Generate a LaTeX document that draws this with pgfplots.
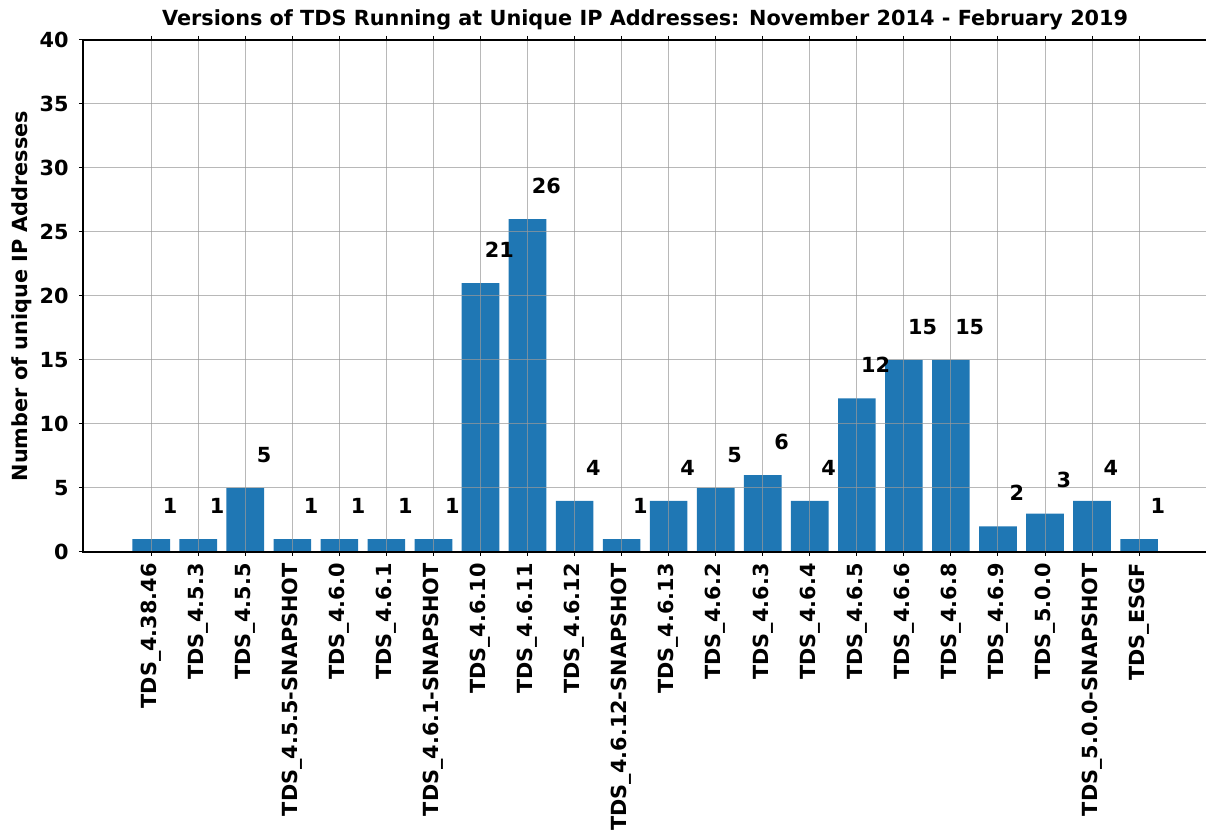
\documentclass[border=0pt]{standalone}
\usepackage{pgfplots}
\pgfplotsset{compat=1.18}
\usepackage{pgfplotstable}
\usepackage{fontspec}
\setmainfont{DejaVu Sans}
\definecolor{barblue}{HTML}{1F77B4}
\definecolor{gridgray}{HTML}{9A9A9A}

\pgfplotstableread{
x y
0 1
1 1
2 5
3 1
4 1
5 1
6 1
7 21
8 26
9 4
10 1
11 4
12 5
13 6
14 4
15 12
16 15
17 15
18 2
19 3
20 4
21 1
}\datatable

\begin{document}
\begin{tikzpicture}
\useasboundingbox (-41.5pt,-141pt) rectangle (561.5pt,276pt);
\begin{axis}[
  scale only axis,
  width=562.15pt, height=256pt,
  xmin=-1.45, xmax=22.45,
  ymin=0, ymax=40,
  xtick={0,...,21},
  xticklabels={TDS\_4.38.46,TDS\_4.5.3,TDS\_4.5.5,TDS\_4.5.5-SNAPSHOT,TDS\_4.6.0,TDS\_4.6.1,TDS\_4.6.1-SNAPSHOT,TDS\_4.6.10,TDS\_4.6.11,TDS\_4.6.12,TDS\_4.6.12-SNAPSHOT,TDS\_4.6.13,TDS\_4.6.2,TDS\_4.6.3,TDS\_4.6.4,TDS\_4.6.5,TDS\_4.6.6,TDS\_4.6.8,TDS\_4.6.9,TDS\_5.0.0,TDS\_5.0.0-SNAPSHOT,TDS\_ESGF},
  ytick={0,5,...,40},
  /pgf/number format/assume math mode=true,
  font=\bfseries\fontsize{10.4}{12}\selectfont,
  tick label style={font=\bfseries\fontsize{10.4}{12}\selectfont},
  xticklabel style={rotate=90, anchor=east, inner xsep=3.5pt, inner ysep=0pt, font=\bfseries\fontsize{10.4}{12}\selectfont},
  yticklabel style={anchor=east, inner xsep=5pt, inner ysep=0pt},
  tick align=outside,
  major tick length=2pt,
  tick style={black, line width=0.5pt},
  axis line style={black, line width=0.75pt},
  grid=major,
  major grid style={color=gridgray, line width=0.5pt, opacity=0.7},
  axis on top,
  title={Versions of TDS Running at Unique IP Addresses: November 2014 - February 2019},
  title style={at={(axis description cs:0.5,1.004)}, anchor=base, inner sep=0pt, font=\bfseries\fontsize{10.4}{12}\selectfont},
  ylabel={Number of unique IP Addresses},
  ylabel style={at={(axis description cs:-0.0498,0.5)}, anchor=base, inner sep=0pt, font=\bfseries\fontsize{10.4}{12}\selectfont},
]
\addplot[ybar, bar width=0.8, bar shift=0pt, fill=barblue, draw=none] table[x=x, y=y] {\datatable};
\addplot[draw=none, mark=none, nodes near coords, point meta=explicit,
  nodes near coords style={anchor=base, inner sep=0pt, font=\bfseries\fontsize{10.4}{12}\selectfont, text=black}]
  table[x expr=\thisrow{x}+0.4, y expr=\thisrow{y}+2, meta=y] {\datatable};
\end{axis}
\end{tikzpicture}
\end{document}
